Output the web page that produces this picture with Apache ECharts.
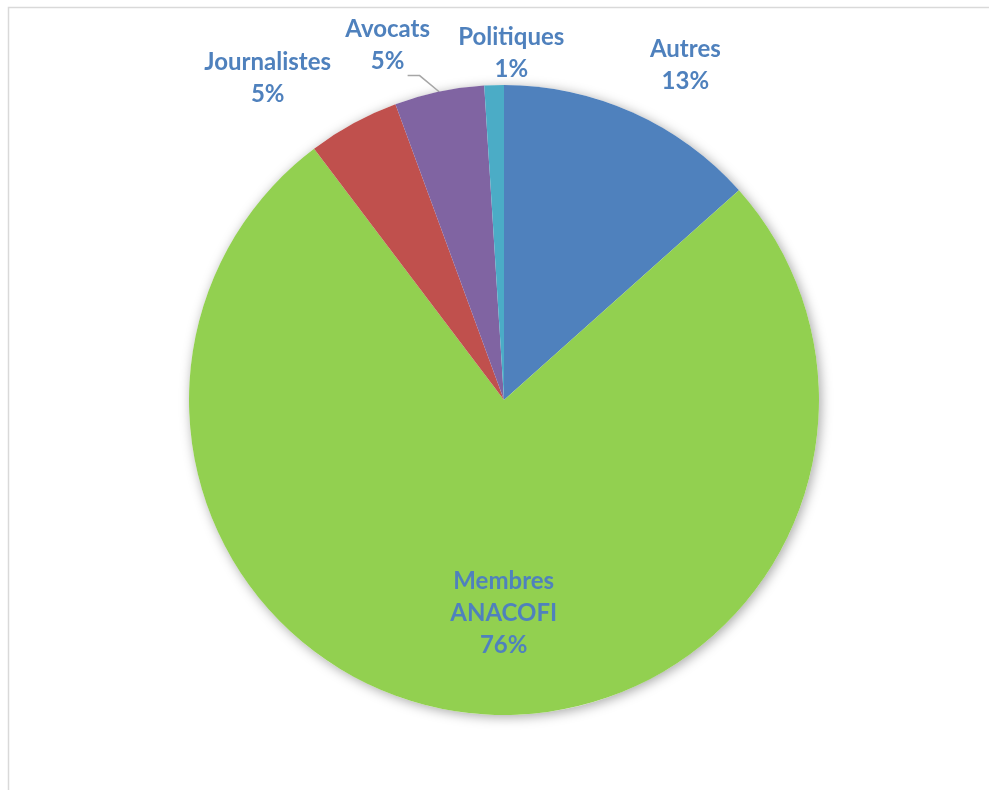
<!DOCTYPE html>
<html>
<head>
<meta charset="utf-8">
<script src="https://cdn.jsdelivr.net/npm/echarts@6/dist/echarts.min.js"></script>
<style>html,body{margin:0;padding:0;background:#fff;}#c{width:989px;height:790px;}</style>
</head>
<body>
<div id="c"></div>
<script>
const categories = ['Autres', 'Membres\nANACOFI', 'Journalistes', 'Avocats', 'Politiques'];
const values = [13.4, 76.3, 4.7, 4.6, 1.0];
const colors = ['#4F81BD', '#92D050', '#C0504D', '#8064A2', '#4BACC6'];

const CX = 504, CY = 400, R = 315;
// label placement: [distance from centre, angle offset from slice mid (deg)]
const labelPolar = [[381, 4.3], [213, -5.5], [399, -7.7], [373, -6.3], [347, 3.0]];

const total = values.reduce((a, b) => a + b, 0);
const mids = [];
let acc = 0;
values.forEach(v => { mids.push((acc + v / 2) / total * 360); acc += v; });

function polar(r, deg) {
  const a = deg * Math.PI / 180;
  return [CX + r * Math.sin(a), CY - r * Math.cos(a)];
}

const chart = echarts.init(document.getElementById('c'), null, {renderer: 'canvas'});
chart.setOption({
  animation: false,
  backgroundColor: '#fff',
  graphic: [{
    type: 'rect', z: -10,
    shape: {x: 8.5, y: 7.5, width: 1000, height: 800},
    style: {fill: 'none', stroke: '#d9d9d9', lineWidth: 1.5}
  }],
  series: [
    {
      type: 'pie', silent: true, z: 1,
      center: [CX, CY], radius: R,
      label: {show: false}, labelLine: {show: false},
      itemStyle: {color: '#fff', shadowBlur: 12, shadowColor: 'rgba(0,0,0,0.35)', shadowOffsetX: 2, shadowOffsetY: 2},
      data: [{value: 1, name: ''}]
    },
    {
      type: 'pie', z: 2,
      center: [CX, CY], radius: R,
      startAngle: 90, clockwise: true,
      percentPrecision: 0,
      itemStyle: {borderWidth: 0},
      label: {
        show: true, position: 'outside',
        formatter: '{b}\n{d}%',
        color: '#4F81BD', fontFamily: 'Lato', fontWeight: 'bold', fontSize: 24, lineHeight: 32, align: 'center'
      },
      labelLine: {show: false, lineStyle: {color: '#a6a6a6', width: 1.5}},
      labelLayout: function (params) {
        const i = params.dataIndex;
        const p = polar(labelPolar[i][0], mids[i] + labelPolar[i][1]);
        const res = {x: p[0], y: p[1], align: 'center', verticalAlign: 'middle'};
        if (i === 3) {
          const e = polar(R, mids[i]);
          res.labelLinePoints = [e, [p[0] + 32, p[1] + 30], [p[0] + 20, p[1] + 30]];
        }
        return res;
      },
      data: categories.map((c, i) => ({
        name: c, value: values[i],
        itemStyle: {color: colors[i]},
        labelLine: {show: i === 3}
      }))
    }
  ]
});
</script>
</body>
</html>
